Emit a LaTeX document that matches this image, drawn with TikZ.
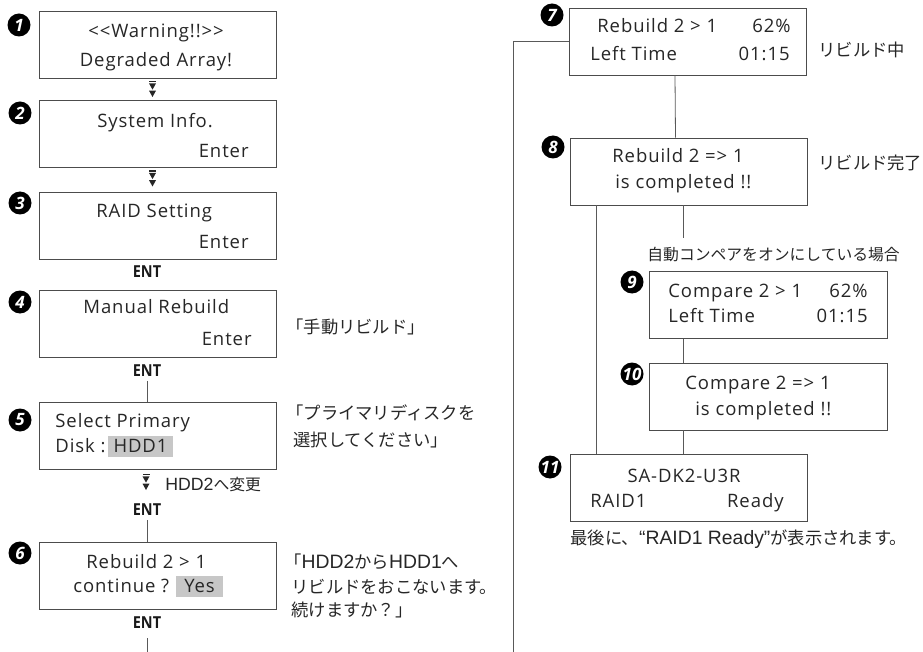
\documentclass[tikz,border=0pt]{standalone}
\usepackage{fontspec}
\setmainfont{Open Sans}
\newfontfamily\lcdfont{Open Sans}[LetterSpace=5]
\newfontfamily\entfont{Open Sans}[FakeStretch=0.88]
\newfontfamily\jpfont{Noto Sans CJK JP}
\newfontfamily\jplatin{Liberation Sans}[Scale=1.12]
\newcommand\lat[1]{{\jplatin #1}}
\usetikzlibrary{positioning, calc}
\pgfkeys{/tikz/.cd,
    overall style/.style={
        x=1pt, y=-1pt,     % 1 unit = 1 pixel of the screen shot, y downwards
        line width=0.8pt,
        node distance=5pt
    },
    lcdbox/.style={draw=black!70, minimum width=237, minimum height=67, inner sep=0},
    lcdline/.style={inner sep=0, text height=11, text depth=0, text=black!85,
        font=\lcdfont\fontsize{18.5}{20}\selectfont},
    hilite/.style={lcdline, fill=black!22, minimum width=#1, minimum height=21, text depth=0},
    numdot/.style={circle, fill=black, minimum size=23, inner sep=0, text=white,
        font=\fontsize{17}{17}\selectfont\bfseries\itshape},
    entkey/.style={inner sep=0, text=black!90, font=\entfont\fontsize{16.5}{17}\selectfont\bfseries},
    jpnote/.style={inner sep=0, anchor=west, text=black!85, font=\jpfont\fontsize{17.3}{24}\selectfont},
    jpsmall/.style={jpnote, font=\jpfont\fontsize{15.8}{18}\selectfont},
    conn/.style={draw=black!65, line width=0.8pt}
}

\begin{document}
\begin{tikzpicture}[overall style]
    \useasboundingbox (0,0) rectangle (923,652);

    % --- 1. left column: LCD boxes ---
    \node[lcdbox] (b1) at (157.5,44.5) {};
    \node[lcdbox] (b2) at (157.5,134) {};
    \node[lcdbox] (b3) at (157.5,226) {};
    \node[lcdbox] (b4) at (157.5,323.5) {};
    \node[lcdbox] (b5) at (157.5,436) {};
    \node[lcdbox] (b6) at (157.5,576) {};

    \node[lcdline] (b1a) at (156,32) {<{}<Warning!!>{}>};
    \node[lcdline] (b1b) at (156,61) {Degraded Array!};
    \node[lcdline, anchor=west] (b2a) at (97,122.5) {System Info.};
    \node[lcdline, anchor=east] (b2b) at (249,152) {Enter};
    \node[lcdline, anchor=west] (b3a) at (96,212) {RAID Setting};
    \node[lcdline, anchor=east] (b3b) at (249,243) {Enter};
    \node[lcdline, anchor=west] (b4a) at (83,308) {Manual Rebuild};
    \node[lcdline, anchor=east] (b4b) at (252,340) {Enter};
    \node[lcdline, anchor=west] (b5a) at (55,422) {Select Primary};
    \node[lcdline, anchor=west] (b5b) at (55,447) {Disk :};
    \node[hilite=65] (b5c) at (140.5,446.5) {HDD1};
    \node[lcdline, anchor=west] (b6a) at (86,563) {Rebuild 2 > 1};
    \node[lcdline, anchor=west] (b6b) at (73,587) {continue ?};
    \node[hilite=47] (b6c) at (199.5,586.5) {Yes};

    % --- 2. right column: LCD boxes ---
    \node[lcdbox] (b7) at (688,41.5) {};
    \node[lcdbox] (b8) at (688.5,171.5) {};
    \node[lcdbox, minimum width=238] (b9) at (768,305) {};
    \node[lcdbox, minimum width=238] (b10) at (768,396.5) {};
    \node[lcdbox] (b11) at (688.5,488) {};

    \node[lcdline, anchor=west] (b7a) at (597,27) {Rebuild 2 > 1};
    \node[lcdline, anchor=east] (b7b) at (791,27) {62\%};
    \node[lcdline, anchor=west] (b7c) at (590,55) {Left Time};
    \node[lcdline, anchor=east] (b7d) at (790,55) {01:15};
    \node[lcdline, anchor=west] (b8a) at (612,157) {Rebuild 2 =>{} 1};
    \node[lcdline, anchor=west] (b8b) at (615,183) {is completed !!};
    \node[lcdline, anchor=west] (b9a) at (668,292) {Compare 2 > 1};
    \node[lcdline, anchor=east] (b9b) at (868,292) {62\%};
    \node[lcdline, anchor=west] (b9c) at (668,317) {Left Time};
    \node[lcdline, anchor=east] (b9d) at (868,317) {01:15};
    \node[lcdline, anchor=west] (b10a) at (685,384) {Compare 2 =>{} 1};
    \node[lcdline, anchor=west] (b10b) at (695,410) {is completed !!};
    \node[lcdline] (b11a) at (684,477) {SA-DK2-U3R};
    \node[lcdline, anchor=west] (b11b) at (590,502) {RAID1};
    \node[lcdline, anchor=east] (b11c) at (784,502) {Ready};

    % --- 3. step numbers ---
    \foreach \n/\px/\py in {1/19/25, 2/20/113, 3/20/203, 4/20/302, 5/20/420, 6/20/553,
                             7/552/15, 8/553/147, 9/632/282, 10/632/374, 11/550/467}
        \node[numdot] (c\n) at (\px,\py) {\n};

    % --- 4. key labels and down marks ---
    \node[entkey] (e3) at (147,271.5) {ENT};
    \node[entkey] (e4) at (147,370.5) {ENT};
    \node[entkey] (e5) at (147,510) {ENT};
    \node[entkey] (e6) at (147,623) {ENT};

    \coordinate (d1) at (152.5,81);
    \coordinate (d2) at (152.5,170.5);
    \coordinate (d3) at (146,474);
    \foreach \d in {d1, d2, d3} {
        \fill[black!85] ($(\d)+(-3.5,0)$) rectangle ($(\d)+(3.5,1.2)$);
        \fill[black!85] ($(\d)+(-3.5,2.4)$) -- ($(\d)+(3.5,2.4)$) -- ($(\d)+(0,8.6)$) -- cycle;
        \fill[black!85] ($(\d)+(-3.5,9.6)$) -- ($(\d)+(3.5,9.6)$) -- ($(\d)+(0,16)$) -- cycle;
    }

    % --- 5. connectors ---
    \coordinate (endL) at (147,652);
    \coordinate (endR) at (513,652);
    \coordinate (cmp) at (683,238);

    \draw[conn] ([yshift=-4]e4.south) -- (e4.south |- b5.north);
    \draw[conn] ([yshift=-4]e5.south) -- (e5.south |- b6.north);
    \draw[conn] ([yshift=-9]e6.south) -- (endL);
    \draw[conn] (endR) |- (b7.west);
    \draw[conn] ([xshift=-13]b7.south) -- ([xshift=-13]b8.north);
    \draw[conn] ([xshift=-92.5]b8.south) -- ([xshift=-92.5]b11.north);
    \draw[conn] (cmp |- b8.south) -- (cmp);
    \draw[conn] (cmp |- b9.south) -- (cmp |- b10.north);
    \draw[conn] (cmp |- b10.south) -- (cmp |- b11.north);

    % --- 6. notes ---
    \node[jpnote] (n4) at (286,327) {「手動リビルド」};
    \node[jpnote] (n5a) at (286,413) {「プライマリディスクを};
    \node[jpnote] (n5b) at (293,440) {選択してください」};
    \node[jpnote] (n6a) at (284,562) {「\lat{HDD2}から\lat{HDD1}へ};
    \node[jpnote] (n6b) at (291,587) {リビルドをおこないます。};
    \node[jpnote] (n6c) at (291,610) {続けますか？」};
    \node[jpsmall] (n5c) at (165,485) {\lat{HDD2}へ変更};
    \node[jpnote] (n7) at (818,50) {リビルド中};
    \node[jpnote] (n8) at (818,163) {リビルド完了};
    \node[jpsmall] (n9) at (647,255) {自動コンペアをオンにしている場合};
    \node[jpnote] (n11) at (570,539) {最後に、\lat{“RAID1 Ready”}が表示されます。};

\end{tikzpicture}
\end{document}
